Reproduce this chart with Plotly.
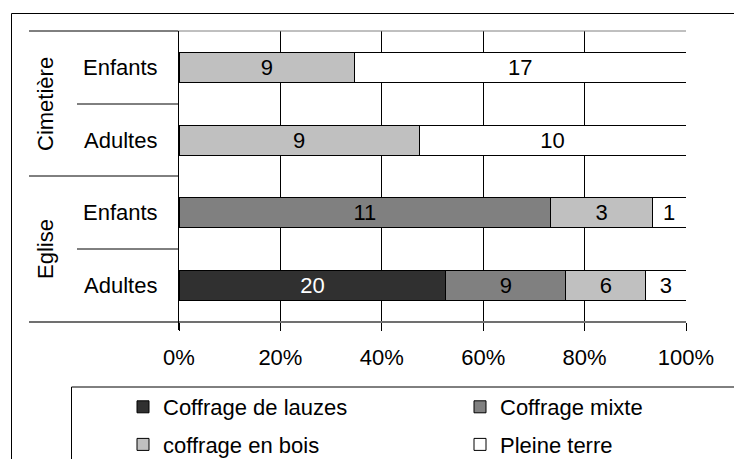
import plotly.graph_objects as go

W, H = 734, 459

# Data
rows = ["Eglise|Adultes", "Eglise|Enfants", "Cimetière|Adultes", "Cimetière|Enfants"]
row_labels = ["Adultes", "Enfants", "Adultes", "Enfants"]
groups = ["Eglise", "Cimetière"]
series_names = ["Coffrage de lauzes", "Coffrage mixte", "coffrage en bois", "Pleine terre"]
lauzes = [20, 0, 0, 0]
mixte = [9, 11, 0, 0]
bois = [6, 3, 9, 9]
terre = [3, 1, 10, 17]
tick_vals = [0, 20, 40, 60, 80, 100]
tick_text = ["0%", "20%", "40%", "60%", "80%", "100%"]

series_vals = [lauzes, mixte, bois, terre]
colors = ["#303030", "#808080", "#c0c0c0", "#ffffff"]
text_colors = ["#ffffff", "#000000", "#000000", "#000000"]
legend_ids = ["legend", "legend2", "legend", "legend2"]

FONT = "Liberation Sans, Arial, sans-serif"
FS = 22

def px(x):
    return x / W

def py(y):
    return 1 - y / H

fig = go.Figure()
for name, vals, col, tcol, lg in zip(series_names, series_vals, colors, text_colors, legend_ids):
    fig.add_trace(go.Bar(
        y=rows, x=vals, name=name, orientation="h",
        legend=lg, legendgroup=name,
        marker=dict(color=col, line=dict(color="#000000", width=1)),
        text=[str(v) if v else "" for v in vals],
        textposition="inside", insidetextanchor="middle", textangle=0,
        textfont=dict(color=tcol, size=FS, family=FONT),
        hoverinfo="skip",
    ))

shapes = []
def line(x0, y0, x1, y1, color="#000000", width=1):
    shapes.append(dict(type="line", xref="paper", yref="paper",
                       x0=px(x0), y0=py(y0), x1=px(x1), y1=py(y1),
                       line=dict(color=color, width=width)))

# outer frame
line(11.5, 13.5, 734, 13.5)
line(11.5, 13.5, 11.5, 459)
# legend frame
line(71.5, 387, 734, 387)
line(71.5, 387, 71.5, 459)
# plot top / bottom
line(29, 31, 178, 31)
line(178, 31, 686, 31, "#808080")
line(29, 322, 686, 322, "#707070", 2)
# vertical axis line
line(178.5, 31, 178.5, 330)
# separators
line(77, 104, 178, 104)
line(29, 176, 178, 176)
line(77, 249, 178, 249)

annotations = []
for i, lab in enumerate(row_labels):
    annotations.append(dict(xref="paper", yref="y", x=px(120), y=rows[i], text=lab,
                            showarrow=False, xanchor="center", yanchor="middle",
                            font=dict(size=FS, family=FONT, color="#000000")))
annotations.append(dict(xref="paper", yref="paper", x=px(46), y=py(249), text=groups[0],
                        showarrow=False, textangle=-90, xanchor="center", yanchor="middle",
                        font=dict(size=FS, family=FONT, color="#000000")))
annotations.append(dict(xref="paper", yref="paper", x=px(46), y=py(104), text=groups[1],
                        showarrow=False, textangle=-90, xanchor="center", yanchor="middle",
                        font=dict(size=FS, family=FONT, color="#000000")))

legend_common = dict(orientation="v", yanchor="top", xanchor="left",
                     traceorder="grouped", tracegroupgap=6,
                     font=dict(size=FS, family=FONT, color="#000000"),
                     bgcolor="rgba(0,0,0,0)", borderwidth=0)

fig.update_layout(
    width=W, height=H, margin=dict(l=0, r=0, t=0, b=0, autoexpand=False),
    paper_bgcolor="#ffffff", plot_bgcolor="#ffffff",
    barmode="stack", barnorm="percent", bargap=0.59,
    font=dict(family=FONT, size=FS, color="#000000"),
    uniformtext=dict(minsize=FS, mode="show"),
    shapes=shapes, annotations=annotations,
    xaxis=dict(domain=[px(179), px(686)], range=[0, 100], tickvals=tick_vals,
               ticktext=tick_text, showgrid=True, gridcolor="#000000", gridwidth=1,
               zeroline=False, showline=False, ticks="outside", ticklen=8,
               tickcolor="#000000", tickfont=dict(size=FS, family=FONT),
               ticklabelstandoff=8, automargin=False),
    yaxis=dict(domain=[py(322), py(31)], categoryorder="array", categoryarray=rows,
               range=[-0.5, 3.5], showticklabels=False, showgrid=False,
               zeroline=False, showline=False, ticks="", automargin=False),
    legend=dict(x=px(123), y=py(386), **legend_common),
    legend2=dict(x=px(460), y=py(386), **legend_common),
    showlegend=True,
)

fig.write_html(
    "out.html",
    config={"displayModeBar": False},
    post_script="document.body.style.margin='0';document.body.style.overflow='hidden';",
)
